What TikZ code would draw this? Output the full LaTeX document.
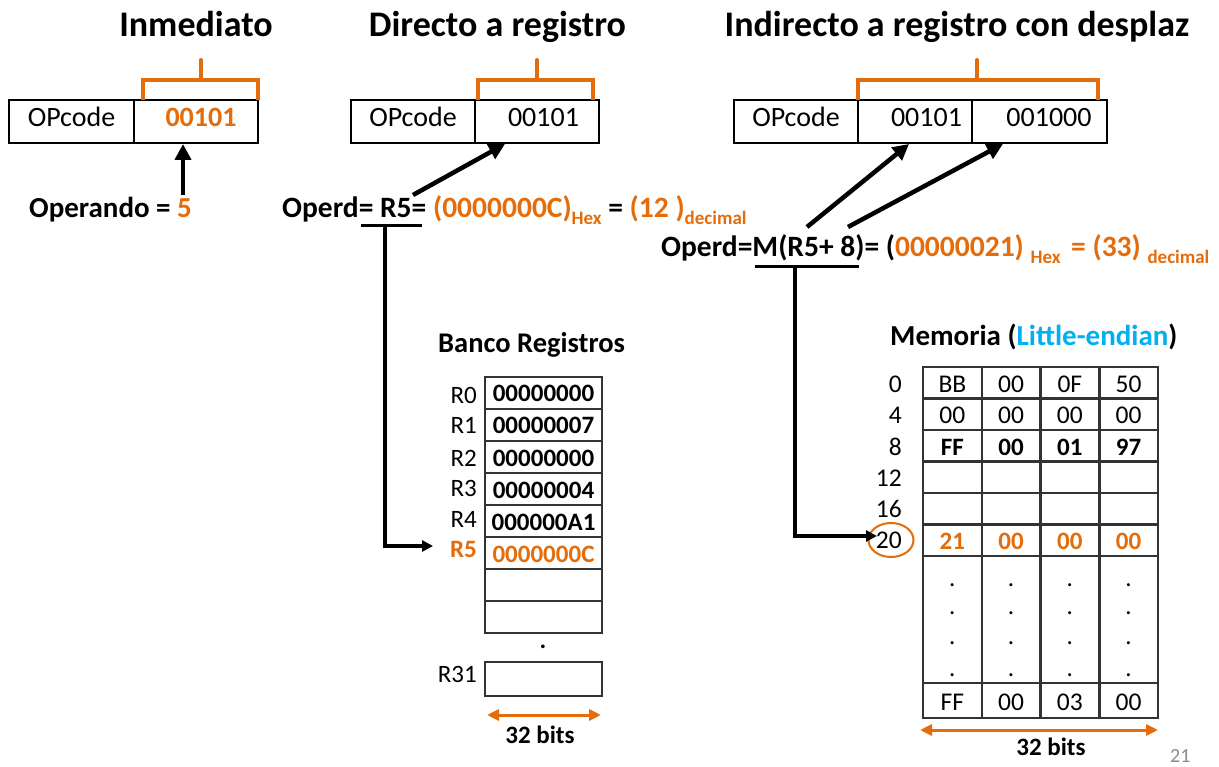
\documentclass[tikz,border=0pt]{standalone}
\usepackage{fontspec}
\setmainfont{Carlito}
\usetikzlibrary{arrows.meta}

\definecolor{org}{HTML}{E46C0A}
\definecolor{sky}{HTML}{00B0F0}
\definecolor{dk}{HTML}{333333}
\definecolor{pg}{HTML}{8C8C8C}

% lowered index text (Hex, decimal)
\newcommand\lowtag[1]{\raisebox{-7pt}{\fontsize{19}{20}\selectfont #1}}

\begin{document}
\begin{tikzpicture}[x=1pt,y=-1pt,
  title/.style={font=\fontsize{36}{40}\selectfont\bfseries, anchor=base, inner sep=0pt},
  ibox/.style={draw, line width=1.5pt, minimum height=43pt, inner sep=0pt,
               text height=20pt, text depth=9pt, font=\fontsize{28}{30}\selectfont},
  brk/.style={draw=org, line width=4pt},
  bigarr/.style={line width=4.5pt, -{Triangle[length=16pt,width=16pt]}},
  elbow/.style={line width=4pt, -{Triangle[length=11pt,width=11pt]}},
  uline/.style={line width=3pt},
  span/.style={draw=org, line width=3pt,
               {Triangle[length=12pt,width=11pt]}-{Triangle[length=12pt,width=11pt]}},
  subhead/.style={anchor=base west, inner sep=0pt, font=\fontsize{28.5}{30}\selectfont\bfseries},
  regcell/.style={draw=dk, line width=2.5pt, minimum width=117pt, minimum height=32pt,
                  inner sep=0pt, text height=18pt, text depth=0pt,
                  font=\fontsize{25}{27}\selectfont\bfseries},
  reglab/.style={anchor=base east, inner sep=0pt, font=\fontsize{25}{27}\selectfont},
  memcell/.style={draw=dk, line width=2.5pt, minimum width=58.75pt, minimum height=31.5pt,
                  inner sep=0pt, text height=19pt, text depth=0pt,
                  font=\fontsize{25.5}{27}\selectfont},
  memlab/.style={anchor=base east, inner sep=0pt, font=\fontsize{25.5}{27}\selectfont},
  bits/.style={anchor=base, inner sep=0pt, font=\fontsize{25}{27}\selectfont\bfseries},
  dotmark/.style={anchor=base, inner sep=0pt, font=\fontsize{25}{27}\selectfont}
]
\fill[white] (0,0) rectangle (1219,767);
\useasboundingbox (0,0) rectangle (1219,767);

% ---------- headings ----------
\node[title] (t1) at (196,37) {Inmediato};
\node[title] (t2) at (497.5,37) {Directo a registro};
\node[title] (t3) at (957,37) {Indirecto a registro con desplaz};

% ---------- instruction words ----------
\node[ibox, minimum width=125pt] (i1op) at (71.5,121.5) {OPcode};
\node[ibox, minimum width=124pt] (i1val) at (196,121.5) {\hspace*{10pt}\textcolor{org}{\bfseries 00101}};

\node[ibox, minimum width=124pt] (i2op) at (413,121.5) {OPcode};
\node[ibox, minimum width=124pt] (i2val) at (537,121.5) {\hspace*{13pt}00101};

\node[ibox, minimum width=124pt] (i3op) at (796,121.5) {OPcode};
\node[ibox, minimum width=114pt] (i3a) at (915,121.5) {\hspace*{23pt}00101};
\node[ibox, minimum width=135pt] (i3b) at (1039.5,121.5) {\hspace*{19pt}001000};

% ---------- operand field brackets ----------
\draw[brk] (143,100) -- (143,80) -- (258,80) -- (258,100);
\draw[brk, line cap=round] (200.5,80) -- (200.5,60);
\draw[brk] (478,100) -- (478,80) -- (593,80) -- (593,100);
\draw[brk, line cap=round] (537,80) -- (537,60);
\draw[brk] (858,100) -- (858,80) -- (1098,80) -- (1098,100);
\draw[brk, line cap=round] (977,80) -- (977,60);

% ---------- operand expressions ----------
\node[anchor=base west, inner sep=0pt, font=\fontsize{29}{32}\selectfont\bfseries] (op1)
  at (29,218) {Operando = \textcolor{org}{5}};
\node[anchor=base west, inner sep=0pt, font=\fontsize{29.5}{32}\selectfont\bfseries] (op2)
  at (282,218) {Operd= R5= \textcolor{org}{(0000000C)\lowtag{Hex}} = \textcolor{org}{(12 )\lowtag{decimal}}};
\node[anchor=base west, inner sep=0pt, font=\fontsize{29.5}{32}\selectfont\bfseries] (op3)
  at (661,257) {Operd=M(R5+ 8)= (\textcolor{org}{00000021) \lowtag{Hex}\hspace{4pt} = (33) \lowtag{decimal}}};

% underlines marking the register / address part
\draw[uline] (361,226) -- (422,226);
\draw[uline] (755,267) -- (859,267);

% ---------- arrows into the instruction fields ----------
\coordinate (a1s) at (183,195);  \coordinate (a1e) at (183,144);
\coordinate (a2s) at (413,195);  \coordinate (a2e) at (505,144);
\coordinate (a3s) at (807,227);  \coordinate (a3e) at (909,144);
\coordinate (a4s) at (848,227);  \coordinate (a4e) at (1003,144);
\draw[bigarr] (a1s) -- (a1e);
\draw[bigarr] (a2s) -- (a2e);
\draw[bigarr] (a3s) -- (a3e);
\draw[bigarr] (a4s) -- (a4e);

% ---------- register bank ----------
\node[subhead] (rbt) at (438,353) {Banco Registros};
\foreach \k/\v in {0/00000000,1/00000007,2/00000000,3/00000004,4/000000A1}
  \node[regcell] (r\k) at (543.5,{393+32*\k}) {\v};
\node[regcell, text=org] (r5) at (543.5,553) {0000000C};
\node[regcell] (r6) at (543.5,585) {};
\node[regcell] (r7) at (543.5,617) {};
\node[regcell, minimum height=34pt] (r31) at (543.5,679) {};
\foreach \k/\yb in {0/403,1/434,2/466,3/496,4/527}
  \node[reglab] (l\k) at (477,\yb) {R\k};
\node[reglab, text=org, font=\fontsize{25}{27}\selectfont\bfseries] (l5) at (477,557) {R5};
\node[reglab] (l31) at (477,682) {R31};
\node[anchor=base, inner sep=0pt, font=\fontsize{25}{27}\selectfont\bfseries] (rdot) at (543,648) {.};

\coordinate (rs1) at (487,715);  \coordinate (rs2) at (601,715);
\draw[span] (rs1) -- (rs2);
\node[bits] (rbits) at (540,743) {32 bits};

% register selection path
\coordinate (u1) at (385,226);  \coordinate (r5in) at (433,546);
\draw[elbow] (u1) |- (r5in);

% ---------- memory ----------
\node[subhead, font=\fontsize{29}{30}\selectfont\bfseries] (mt) at (890,346) {Memoria (\textcolor{sky}{Little-endian})};
\foreach \t [count=\c from 0] in {BB,00,0F,50}
  \node[memcell] (ma\c) at ({952.375+58.75*\c},382.75) {\t};
\foreach \t [count=\c from 0] in {00,00,00,00}
  \node[memcell] (mb\c) at ({952.375+58.75*\c},414.25) {\t};
\foreach \t [count=\c from 0] in {FF,00,01,97}
  \node[memcell, font=\fontsize{25}{27}\selectfont\bfseries] (mc\c) at ({952.375+58.75*\c},445.75) {\t};
\foreach \c in {0,...,3}
  \node[memcell] (md\c) at ({952.375+58.75*\c},477.25) {};
\foreach \c in {0,...,3}
  \node[memcell] (me\c) at ({952.375+58.75*\c},508.75) {};
\foreach \t [count=\c from 0] in {21,00,00,00}
  \node[memcell, text=org, font=\fontsize{25}{27}\selectfont\bfseries] (mf\c) at ({952.375+58.75*\c},540.25) {\t};
\foreach \c in {0,...,3}
  \node[memcell, minimum height=127pt] (mg\c) at ({952.375+58.75*\c},619.5) {};
\foreach \c in {0,...,3}
  \foreach \yy [count=\j] in {586.5,614.5,644.5,676.5}
    \node[dotmark] (dot\c-\j) at ({952.375+58.75*\c},\yy) {.};
\foreach \t [count=\c from 0] in {FF,00,03,00}
  \node[memcell, minimum height=35pt] (mh\c) at ({952.375+58.75*\c},700.5) {\t};

\foreach \a/\yb in {0/393,4/424,8/455,12/486,16/517,20/548}
  \node[memlab] (ad\a) at (902,\yb) {\a};
\draw[org, line width=2pt] (891,540) ellipse [x radius=22.5, y radius=17];

\coordinate (ms1) at (920,730);  \coordinate (ms2) at (1158,730);
\draw[span] (ms1) -- (ms2);
\node[bits] (mbits) at (1051,755) {32 bits};

% memory address path
\coordinate (u2) at (795,267);  \coordinate (m20in) at (877,536);
\draw[elbow] (u2) |- (m20in);

% page number
\node[anchor=base west, inner sep=0pt, text=pg, font=\fontsize{20}{22}\selectfont] (pnum) at (1170,762) {21};
\end{tikzpicture}
\end{document}
